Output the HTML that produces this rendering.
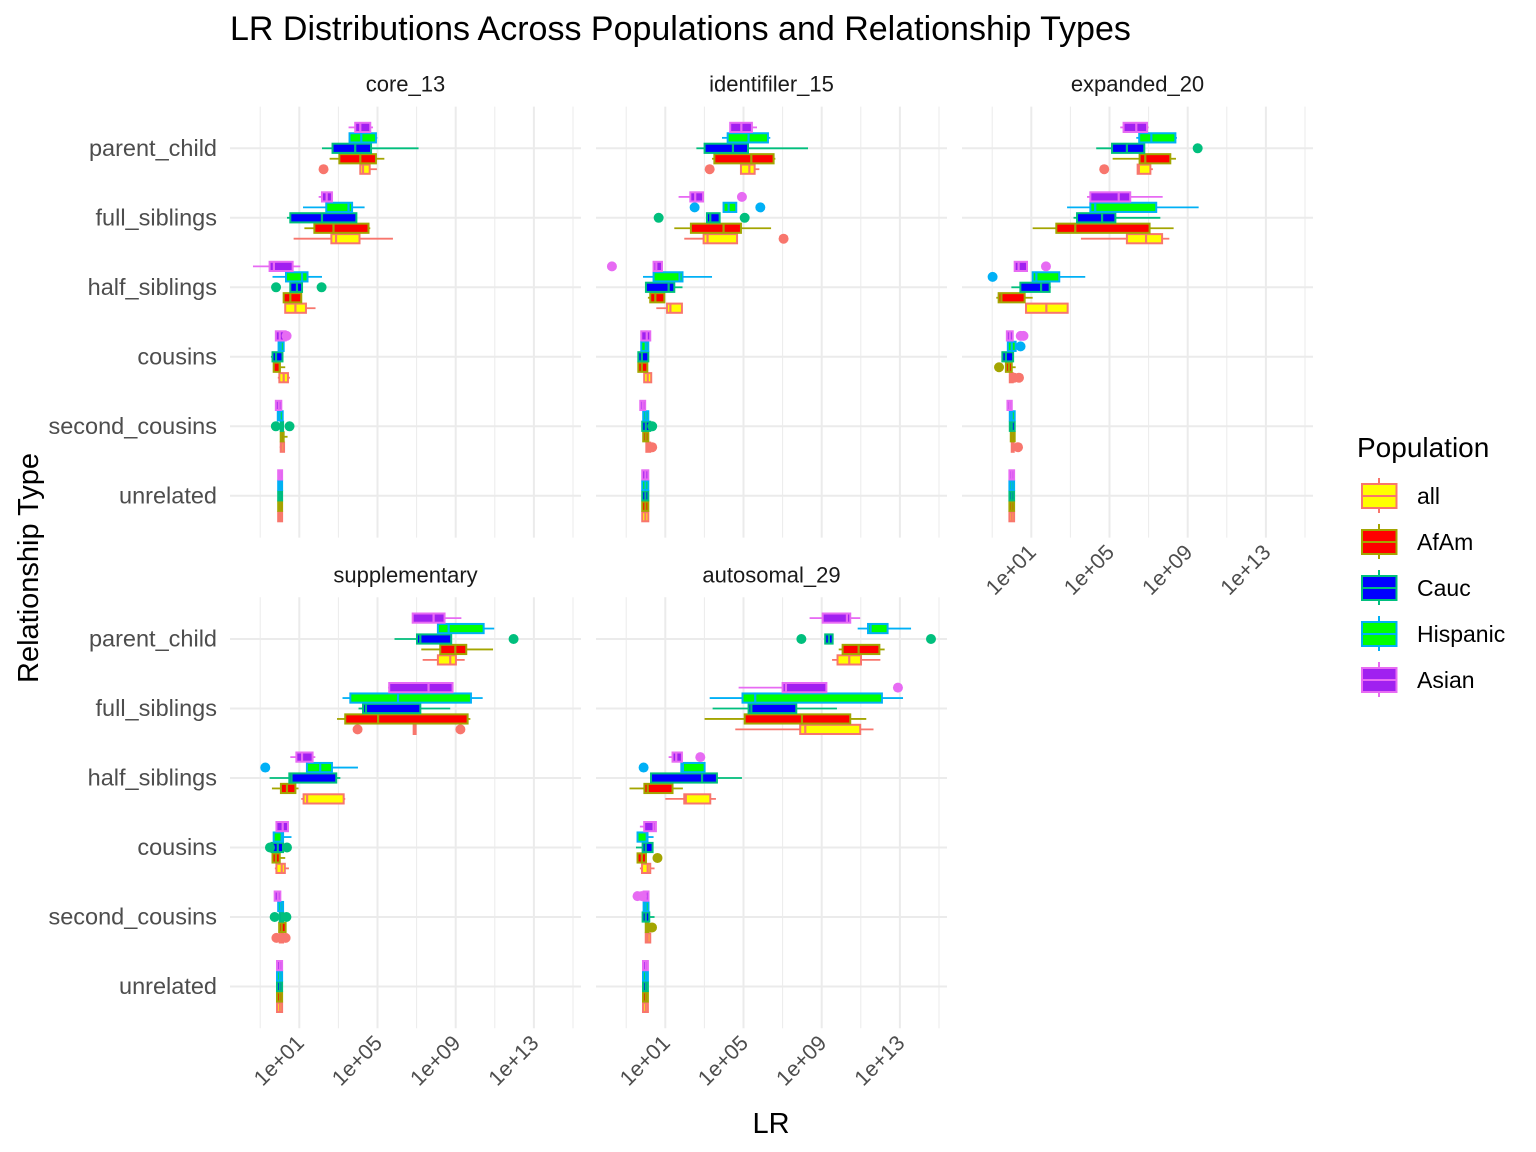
<!DOCTYPE html>
<html><head><meta charset="utf-8"><title>LR Distributions</title>
<style>html,body{margin:0;padding:0;background:#fff;}svg{display:block;font-family:"Liberation Sans",Arial,sans-serif;}</style>
</head><body>
<svg id="chart" width="1536" height="1152" viewBox="0 0 1536 1152">
<text x="230" y="40" font-size="34" fill="#000">LR Distributions Across Populations and Relationship Types</text>
<text x="771" y="1133" font-size="29" fill="#000" text-anchor="middle">LR</text>
<text transform="translate(38,568) rotate(-90)" font-size="29" fill="#000" text-anchor="middle">Relationship Type</text>
<g id="panels"></g>
<g id="legend"></g>
</svg>
<script>
const panelNames = ["core_13","identifiler_15","expanded_20","supplementary","autosomal_29"];
const relationships = ["parent_child","full_siblings","half_siblings","cousins","second_cousins","unrelated"];
const populations = ["all","AfAm","Cauc","Hispanic","Asian"];
const tickValues = [1,5,9,13];
const tickLabels = ["1e+01","1e+05","1e+09","1e+13"];
const minorValues = [-1,3,7,11,15];
const fillColors = ["#FFFF00","#FF0000","#0000FF","#00FF00","#A020F0"];
const strokeColors = ["#F8766D","#A3A500","#00BF7D","#00B0F6","#E76BF3"];
// log10 stats [lo, q1, median, q3, hi] per relationship x population
const core_13 = [
 [[4.12,4.12,4.26,4.60,4.97],[2.55,3.05,4.12,4.92,5.35],[2.16,2.70,3.86,4.67,7.10],[3.56,3.57,4.17,4.92,4.99],[3.52,3.86,4.12,4.63,4.77]],
 [[0.71,2.64,2.88,4.08,5.79],[1.26,1.77,2.75,4.54,4.63],[0.37,0.54,2.16,3.92,3.92],[1.19,2.38,3.52,3.70,4.34],[1.99,2.16,2.4,2.67,2.67]],
 [[0.28,0.28,0.8,1.34,1.83],[0.2,0.2,0.54,1.1,1.1],[0.54,0.54,0.88,1.14,1.14],[-0.37,0.32,1.14,1.42,2.16],[-1.37,-0.52,-0.3,0.66,1.05]],
 [[-0.1,-0.02,0.2,0.42,0.52],[-0.31,-0.31,0,0,0.28],[-0.45,-0.37,-0.19,0.14,0.14],[-0.06,-0.06,0.05,0.2,0.2],[-0.2,-0.2,0,0.3,0.3]],
 [[0,0.05,0.1,0.22,0.22],[0.05,0.05,0.1,0.2,0.4],[-0.15,0.05,0.1,0.17,0.17],[-0.1,-0.1,0,0.15,0.15],[-0.2,-0.2,-0.05,0.08,0.08]],
 [[-0.08,-0.08,0.02,0.12,0.12],[-0.08,-0.08,0.02,0.12,0.12],[-0.08,-0.08,0.02,0.12,0.12],[-0.08,-0.08,0.02,0.12,0.12],[-0.08,-0.08,0.02,0.12,0.12]]
];
const core_13_out = [[[2.24],[],[],[],[]],[[],[],[],[],[]],[[],[],[-0.19,2.14],[],[]],[[],[],[],[],[0.35]],[[],[],[0.5,-0.2],[],[]],[[],[],[],[],[]]];
const identifiler_15 = [
 [[4.87,4.87,5.30,5.57,5.81],[3.39,3.51,5.40,6.54,6.63],[2.59,3.01,4.46,5.23,8.30],[3.9,4.19,5.26,6.25,6.37],[4.32,4.32,4.89,5.43,5.69]],
 [[1.97,2.96,3.16,4.67,4.67],[1.46,2.31,3.98,4.87,6.41],[3.13,3.13,3.30,3.78,3.78],[3.98,3.98,4.24,4.63,4.63],[1.68,2.28,2.53,2.93,2.93]],
 [[0.54,1.09,1.26,1.85,1.85],[0.11,0.23,0.49,0.95,0.95],[0.01,0.01,1.17,1.46,1.88],[-0.14,0.4,1.73,1.88,3.39],[0.4,0.4,0.54,0.83,0.83]],
 [[-0.08,-0.08,0.1,0.28,0.28],[-0.38,-0.38,-0.2,0.08,0.08],[-0.38,-0.38,-0.2,0.13,0.13],[-0.23,-0.23,0,0.13,0.13],[-0.23,-0.23,0.05,0.23,0.23]],
 [[0.03,0.03,0.1,0.23,0.23],[-0.13,-0.13,0,0.13,0.13],[-0.18,-0.18,0,0.23,0.23],[-0.13,-0.13,0,0.13,0.13],[-0.28,-0.28,-0.15,-0.03,-0.03]],
 [[-0.18,-0.18,-0.02,0.13,0.13],[-0.18,-0.18,-0.02,0.13,0.13],[-0.18,-0.18,-0.02,0.13,0.13],[-0.18,-0.18,-0.02,0.13,0.13],[-0.18,-0.18,-0.02,0.13,0.13]]
];
const identifiler_15_out = [[[3.27],[],[],[],[]],[[7.05],[],[0.66,5.06],[2.50,5.86],[4.92]],[[],[],[],[],[-1.73]],[[],[],[],[],[]],[[0.33],[],[0.33],[],[]],[[],[],[],[],[]]];
const expanded_20 = [
 [[6.44,6.44,6.5,7.09,7.22],[5.16,6.54,6.83,8.11,8.40],[4.32,5.13,5.89,6.78,6.78],[6.37,6.52,7.14,8.37,8.45],[5.55,5.72,6.37,6.92,7.0]],
 [[3.54,5.89,6.87,7.69,8.06],[1.07,2.28,3.25,7.05,8.28],[3.16,3.34,4.62,5.30,7.6],[2.83,4.02,4.27,7.39,9.56],[3.85,4.02,5.47,6.06,7.72]],
 [[0.73,0.73,1.77,2.86,2.86],[-0.79,-0.67,-0.53,0.66,1.07],[-0.02,0.44,1.5,1.94,2.0],[1.07,1.07,1.26,2.43,3.76],[0.15,0.15,0.35,0.78,0.78]],
 [[-0.1,-0.1,0,0.05,0.05],[-0.3,-0.3,-0.15,0,0.2],[-0.48,-0.48,-0.3,0.07,0.07],[-0.2,-0.2,0,0.2,0.2],[-0.25,-0.25,-0.1,0.05,0.05]],
 [[0,0,0.05,0.1,0.1],[-0.05,-0.05,0.05,0.15,0.15],[-0.1,-0.1,0,0.15,0.15],[-0.1,-0.1,0,0.15,0.15],[-0.22,-0.22,-0.1,0,0]],
 [[-0.12,-0.12,0,0.12,0.12],[-0.12,-0.12,0,0.12,0.12],[-0.12,-0.12,0,0.12,0.12],[-0.12,-0.12,0,0.12,0.12],[-0.12,-0.12,0,0.12,0.12]]
];
const expanded_20_out = [[[4.73],[],[9.51],[],[]],[[],[],[],[],[]],[[],[],[],[-0.98],[1.75]],[[0.12,0.37],[-0.65],[],[0.45],[0.46,0.6]],[[0.32],[],[],[],[]],[[],[],[],[],[]]];
const supplementary = [
 [[7.31,8.09,8.72,9.01,9.46],[7.24,8.21,8.98,9.54,10.91],[5.87,7.02,7.19,8.77,8.77],[8.09,8.09,8.64,10.43,10.97],[6.80,6.80,7.87,8.43,9.29]],
 [[6.85,6.85,6.9,6.95,6.95],[2.93,3.35,5.03,9.61,9.75],[4.03,4.26,4.41,7.19,8.72],[3.21,3.61,6.05,9.78,10.38],[5.54,5.60,7.61,8.84,8.84]],
 [[1.1,1.22,1.4,3.27,3.35],[-0.4,0.06,0.37,0.8,0.96],[-0.52,0.49,0.6,2.89,3.1],[1.39,1.39,2.07,2.67,4.0],[0.54,0.85,1.14,1.68,1.82]],
 [[-0.25,-0.17,0.1,0.26,0.47],[-0.37,-0.37,-0.2,0,0.28],[-0.42,-0.42,-0.1,0.17,0.17],[-0.31,-0.31,0.1,0.17,0.6],[-0.17,-0.17,0.15,0.42,0.42]],
 [[0,0,0.1,0.17,0.17],[-0.03,-0.03,0.1,0.3,0.3],[0,0,0.1,0.17,0.17],[-0.08,-0.08,0.05,0.17,0.17],[-0.26,-0.26,-0.1,0.03,0.03]],
 [[-0.14,-0.14,0,0.12,0.12],[-0.14,-0.14,0,0.12,0.12],[-0.14,-0.14,0,0.12,0.12],[-0.14,-0.14,0,0.12,0.12],[-0.14,-0.14,0,0.12,0.12]]
];
const supplementary_out = [[[],[],[11.96],[],[]],[[3.98,9.24],[],[],[],[]],[[],[],[],[-0.74],[]],[[],[],[-0.5,0.37],[],[]],[[-0.17,0.3],[],[-0.26,0.34],[],[]],[[],[],[],[],[]]];
const autosomal_29 = [
 [[9.53,9.81,10.41,11.01,12.0],[9.87,10.07,10.89,11.95,12.22],[9.18,9.18,9.37,9.56,9.56],[10.84,11.37,11.5,12.37,13.57],[8.38,9.05,10.29,10.46,10.97]],
 [[4.58,7.9,8.16,10.97,11.65],[3.01,5.06,7.99,10.46,11.28],[3.42,5.26,5.40,7.70,9.78],[3.27,4.95,5.60,12.08,13.16],[4.75,7.0,7.17,9.24,9.24]],
 [[1.0,1.97,2.05,3.3,3.59],[-0.83,-0.07,0.1,1.37,1.9],[0.27,0.27,2.88,3.64,4.92],[1.82,1.82,1.9,3.01,3.01],[1.17,1.37,1.56,1.85,1.85]],
 [[-0.3,-0.19,0.1,0.23,0.45],[-0.42,-0.42,-0.2,0.01,0.01],[-0.5,-0.16,0,0.35,0.35],[-0.42,-0.42,0.05,0.09,0.4],[-0.3,-0.08,0.4,0.52,0.52]],
 [[0,0,0.1,0.23,0.23],[0,0,0.05,0.14,0.14],[-0.16,-0.16,0,0.18,0.45],[-0.11,-0.11,0,0.14,0.14],[-0.11,-0.11,0,0.14,0.14]],
 [[-0.14,-0.14,0,0.11,0.11],[-0.14,-0.14,0,0.11,0.11],[-0.14,-0.14,0,0.11,0.11],[-0.14,-0.14,0,0.11,0.11],[-0.14,-0.14,0,0.11,0.11]]
];
const autosomal_29_out = [[[],[],[7.96,14.59],[],[]],[[],[],[],[],[12.90]],[[],[],[],[-0.11],[2.79]],[[],[0.6],[],[],[]],[[],[0.32],[],[],[-0.42,-0.2]],[[],[],[],[],[]]];

const panelStats = [core_13, identifiler_15, expanded_20, supplementary, autosomal_29];
const panelOutliers = [core_13_out, identifiler_15_out, expanded_20_out, supplementary_out, autosomal_29_out];

const NS = "http://www.w3.org/2000/svg";
function mk(tag, attrs, parent){const e=document.createElementNS(NS,tag);for(const k in attrs)e.setAttribute(k,attrs[k]);if(parent)parent.appendChild(e);return e;}
const panelLeft = [230,596,962,230,596];
const panelTop = [106.6,106.6,106.6,597.3,597.3];
const PW = 351, PH = 431, DEC = 19.55, X0 = 49.75, ROWSTEP = 69.5, ROW0 = 41.7, DODGE = 10.45, BOXH = 9.2;
function xScale(p, v){return panelLeft[p] + X0 + v*DEC;}
function yScale(p, r, i){return panelTop[p] + ROW0 + r*ROWSTEP + (2-i)*DODGE;}
const root = document.getElementById('panels');
panelNames.forEach((name,p)=>{
  const g = mk('g',{},root);
  
  
  const L = panelLeft[p], T = panelTop[p];
  minorValues.forEach(v=>{const x=xScale(p,v); if(x>L&&x<L+PW){const ln=mk('line',{x1:x,x2:x,y1:T,y2:T+PH,stroke:'#EBEBEB','stroke-width':1},g);
    
    }});
  tickValues.forEach(v=>{const x=xScale(p,v);const ln=mk('line',{x1:x,x2:x,y1:T,y2:T+PH,stroke:'#EBEBEB','stroke-width':2},g);
    
    });
  relationships.forEach((rel,r)=>{const y=yScale(p,r,2);const ln=mk('line',{x1:L,x2:L+PW,y1:y,y2:y,stroke:'#EBEBEB','stroke-width':2},g);
    
    });
  const st = mk('text',{x:L+PW/2,y:T-15,'font-size':22,fill:'#1A1A1A','text-anchor':'middle'},g);
  st.textContent = name;
  
  
  if(p===0||p===3){relationships.forEach((rel,r)=>{const t=mk('text',{x:217,y:yScale(p,r,2)+7.5,'font-size':23.5,fill:'#4D4D4D','text-anchor':'end'},g);
    t.textContent=rel;
    
    });}
  if(p>=2){tickValues.forEach((v,k)=>{const x=xScale(p,v);const t=mk('text',{transform:'translate('+(x+6)+','+(T+PH+16)+') rotate(-45)','font-size':21.5,fill:'#4D4D4D','text-anchor':'end'},g);
    t.textContent=tickLabels[k];
    
    });}
  const stats = panelStats[p], outs = panelOutliers[p];
  relationships.forEach((rel,r)=>{
    populations.forEach((pop,i)=>{
      const s = stats[r][i]; const yc = yScale(p,r,i); const col = strokeColors[i];
      const bg = mk('g',{},g);
      
      
      mk('line',{x1:xScale(p,s[0]),x2:xScale(p,s[1]),y1:yc,y2:yc,stroke:col,'stroke-width':1.8},bg);
      mk('line',{x1:xScale(p,s[3]),x2:xScale(p,s[4]),y1:yc,y2:yc,stroke:col,'stroke-width':1.8},bg);
      const x1=xScale(p,s[1]), x2=xScale(p,s[3]);
      mk('rect',{x:x1,y:yc-BOXH/2,width:Math.max(x2-x1,0.5),height:BOXH,fill:fillColors[i],stroke:col,'stroke-width':2},bg);
      const xm=xScale(p,s[2]);
      mk('line',{x1:xm,x2:xm,y1:yc-BOXH/2,y2:yc+BOXH/2,stroke:col,'stroke-width':2.2},bg);
      outs[r][i].forEach(o=>{const c=mk('circle',{cx:xScale(p,o),cy:yc,r:5,fill:col},g);
        
        });
    });
  });
});
const lg = document.getElementById('legend');
const lt = mk('text',{x:1357,y:457,'font-size':28,fill:'#000'},lg);
lt.textContent='Population';


populations.forEach((pop,i)=>{
  const cy = 496 + i*46;
  const e = mk('g',{},lg);
  
  
  mk('line',{x1:1379,x2:1379,y1:cy-18,y2:cy+17,stroke:strokeColors[i],'stroke-width':2},e);
  mk('rect',{x:1362,y:cy-12,width:34.5,height:24,fill:fillColors[i],stroke:strokeColors[i],'stroke-width':2},e);
  mk('line',{x1:1362,x2:1396.5,y1:cy,y2:cy,stroke:strokeColors[i],'stroke-width':2},e);
  const t = mk('text',{x:1417,y:cy+8,'font-size':23,fill:'#000'},e);
  t.textContent = pop;
});
</script>
</body></html>
